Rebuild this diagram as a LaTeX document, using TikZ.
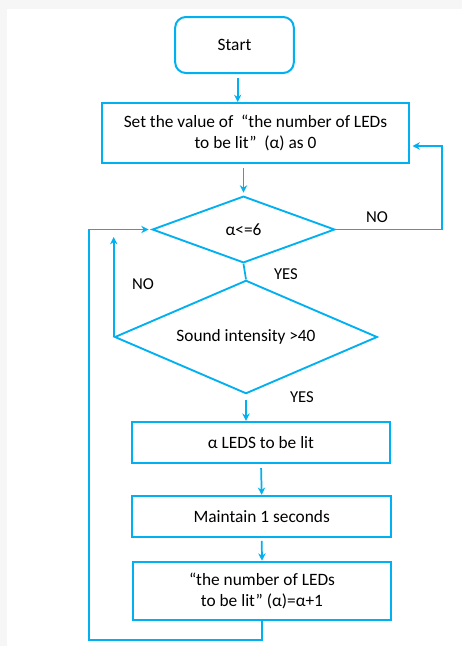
\documentclass[tikz,border=0pt]{standalone}
\usepackage{fontspec}
\setmainfont{Carlito}
\usepackage{xcolor}
\usepackage{tikz}
\usetikzlibrary{arrows.meta,positioning,calc,shapes.geometric}
\definecolor{flowblue}{RGB}{0,176,240}
\definecolor{pagegray}{RGB}{246,246,246}

\begin{document}
\begin{tikzpicture}[x=0.75pt, y=-0.75pt, every node/.style={font=\fontsize{13}{15.8}\selectfont},
  box/.style={draw=flowblue, line width=1.5pt, minimum width=194pt, minimum height=31pt, align=center, inner sep=2pt},
  cond/.style={draw=flowblue, line width=1.4pt, diamond, inner sep=0pt},
  flow/.style={draw=flowblue, line width=1.3pt, -{Stealth[length=5.5pt,width=5.5pt]}},
  link/.style={draw=flowblue, line width=1.3pt},
  lab/.style={font=\fontsize{12.5}{15}\selectfont}]
\fill[pagegray] (0,0) rectangle (462,646);
\fill[white] (7,9) rectangle (462,646);
\useasboundingbox (0,0) rectangle (462,646);
\node[box, rounded corners=8pt, minimum width=89pt, minimum height=42pt, text depth=-2pt] (start) at (234.5,45) {Start};
\node[box, minimum width=230pt, minimum height=45pt] (init) at (255.5,133) {Set the value of\ \ “the number of LEDs\\to be lit”\ \ (α) as 0};
\node[cond, minimum width=137pt, minimum height=50pt] (check) at (243.5,229.5) {α<=6};
\node[cond, shape aspect=2.3, minimum width=197pt, minimum height=85pt] (sound) at (246,337) {Sound intensity >40};
\node[box] (lit) at (261,442.5) {α LEDS to be lit};
\node[box] (hold) at (261.7,516.5) {Maintain 1 seconds};
\node[box, minimum height=44pt] (incr) at (262,591) {“the number of LEDs\\to be lit” (α)=α+1};
\node[lab] (noright) at (377,217) {NO};
\node[lab] (yesup) at (286,274) {YES};
\node[lab] (noleft) at (143,284) {NO};
\node[lab] (yesdown) at (302,397) {YES};
\coordinate (rturn) at (442,146);
\coordinate (nostop) at (113,237);
\coordinate (loopbot) at (89,640);
\draw[flow, shorten <=3pt] ([xshift=2.4pt]start.south) -- ([xshift=2.4pt]start.south |- init.north);
\draw[flow, shorten <=3pt, shorten >=2pt] (check.north |- init.south) -- (check.north);
\draw[flow, shorten >=2pt] (check.east) -| (rturn) -- (init.east |- rturn);
\draw[link] (check.south) -- (sound.north);
\draw[flow] (sound.west) -- (sound.west |- nostop);
\draw[flow, shorten <=4pt] (sound.south) -- (sound.south |- lit.north);
\draw[flow, shorten <=3pt] (lit.south) -- (hold.north);
\draw[flow, shorten <=2pt] (hold.south) -- (incr.north);
\draw[flow, shorten >=2pt] (incr.south) |- (loopbot) |- (check.west);
\end{tikzpicture}
\end{document}
